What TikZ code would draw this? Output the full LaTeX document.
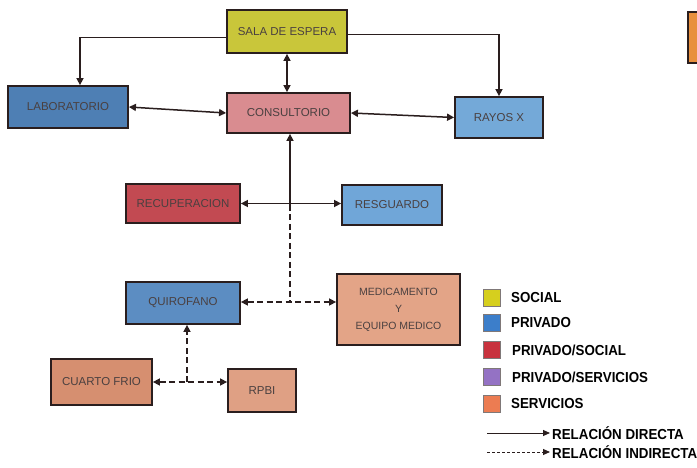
\documentclass[tikz,border=0pt]{standalone}
\usepackage{fontspec}
\setmainfont{Liberation Sans}
\newfontfamily\legfont[FakeStretch=0.92]{Liberation Sans}
\usetikzlibrary{arrows.meta}
\definecolor{cSala}{HTML}{C9C63A}
\definecolor{cLab}{HTML}{4E7FB4}
\definecolor{cCons}{HTML}{D98C90}
\definecolor{cRayos}{HTML}{74A9D8}
\definecolor{cRecup}{HTML}{C24A52}
\definecolor{cResg}{HTML}{70A6D8}
\definecolor{cQuir}{HTML}{5C8DC2}
\definecolor{cMedic}{HTML}{E3A487}
\definecolor{cCuarto}{HTML}{D68F70}
\definecolor{cRpbi}{HTML}{DFA084}
\definecolor{cPartial}{HTML}{E8903E}
\definecolor{lSocial}{HTML}{D6CF1E}
\definecolor{lPriv}{HTML}{3C7ECA}
\definecolor{lPrivSoc}{HTML}{C8323E}
\definecolor{lPrivServ}{HTML}{9472C4}
\definecolor{lServ}{HTML}{EC7C52}
\definecolor{ink}{HTML}{2A1E1E}
\tikzset{
  box/.style={draw=ink, line width=1.8pt, rectangle, inner sep=2pt, align=center,
    font=\fontsize{11.5}{13}\selectfont, text=ink!85},
  conn/.style={draw=ink, line width=1.5pt},
  arr/.style={conn, -{Triangle[length=7pt,width=7pt]}},
  darr/.style={conn, {Triangle[length=7pt,width=7pt]}-{Triangle[length=7pt,width=7pt]}},
  dsh/.style={dash pattern=on 6pt off 3.5pt},
  legsq/.style={draw=ink!60, line width=0.8pt, minimum width=17pt, minimum height=17pt, inner sep=0pt},
  legtxt/.style={anchor=west, inner sep=0pt, font=\legfont\bfseries\fontsize{14.5}{16}\selectfont, text=black},
}
\begin{document}
\begin{tikzpicture}[x=1pt,y=-1pt]
\useasboundingbox (0,0) rectangle (697,468);
\fill[white] (0,0) rectangle (697,468);

% partial box at right edge
\path[fill=cPartial, draw=ink, line width=1.8pt] (688,12) rectangle (712,63);

\node[box, fill=cSala, minimum width=120pt, minimum height=43pt] (sala) at (287,31.5) {SALA DE ESPERA};
\node[box, fill=cLab, minimum width=120pt, minimum height=42pt] (lab) at (68,107) {LABORATORIO};
\node[box, fill=cCons, minimum width=123pt, minimum height=40pt] (cons) at (288.5,113) {CONSULTORIO};
\node[box, fill=cRayos, minimum width=88pt, minimum height=41pt] (rayos) at (499,117.5) {RAYOS X};
\node[box, fill=cRecup, minimum width=114pt, minimum height=39pt] (recup) at (183,203.5) {RECUPERACION};
\node[box, fill=cResg, minimum width=100pt, minimum height=40pt] (resg) at (392,205) {RESGUARDO};
\node[box, fill=cQuir, minimum width=114pt, minimum height=42pt] (quir) at (183,303) {QUIROFANO};
\node[box, fill=cMedic, minimum width=123pt, minimum height=71pt, font=\fontsize{10.5}{17}\selectfont] (medic) at (398.5,309.5) {MEDICAMENTO\\Y\\EQUIPO MEDICO};
\node[box, fill=cCuarto, minimum width=101pt, minimum height=46pt] (cuarto) at (101.5,382) {CUARTO FRIO};
\node[box, fill=cRpbi, minimum width=68pt, minimum height=43pt] (rpbi) at (262,390.5) {RPBI};

% connectors
\draw[arr] ([yshift=-6pt]sala.west) -| ([xshift=12pt]lab.north);
\draw[arr] ([yshift=-3pt]sala.east) -| (rayos.north);
\draw[darr] (sala.south) -- (sala.south |- cons.north);
\draw[darr] (lab.east) -- (cons.west);
\draw[darr] (cons.east) -- (rayos.west);

\coordinate (j1) at (290,205);
\coordinate (j2) at (290,302);
\draw[arr] (j1) -- (j1 |- cons.south);
\draw[darr] (recup.east) -- (recup.east -| resg.west);
\draw[conn, dsh] (j1) -- (j2);
\draw[darr, dsh] ([yshift=1pt]quir.east) -- ([yshift=1pt]quir.east -| medic.west);

\coordinate (j3) at (187,382);
\draw[arr, dsh] (j3) -- (j3 |- quir.south);
\draw[darr, dsh] (cuarto.east) -- (cuarto.east -| rpbi.west);

% legend
\node[legsq, fill=lSocial] (s1) at (492,298) {};
\node[legsq, fill=lPriv] (s2) at (492,323) {};
\node[legsq, fill=lPrivSoc] (s3) at (492,350) {};
\node[legsq, fill=lPrivServ] (s4) at (492,377) {};
\node[legsq, fill=lServ] (s5) at (492,404) {};
\node[legtxt] (t1) at (511,298) {SOCIAL};
\node[legtxt] (t2) at (511,323) {PRIVADO};
\node[legtxt] (t3) at (512,350) {PRIVADO/SOCIAL};
\node[legtxt] (t4) at (512,377) {PRIVADO/SERVICIOS};
\node[legtxt] (t5) at (511,404) {SERVICIOS};

\coordinate (la) at (487,433);
\coordinate (lb) at (550,433);
\coordinate (lc) at (487,452);
\coordinate (ld) at (550,452);
\draw[conn, line width=1pt, -{Triangle[length=7pt,width=6pt]}] (la) -- (lb);
\draw[conn, line width=1pt, dash pattern=on 3pt off 2pt, -{Triangle[length=7pt,width=6pt]}] (lc) -- (ld);
\node[legtxt] (t6) at (552,433) {RELACIÓN DIRECTA};
\node[legtxt] (t7) at (552,452) {RELACIÓN INDIRECTA};
\end{tikzpicture}
\end{document}
